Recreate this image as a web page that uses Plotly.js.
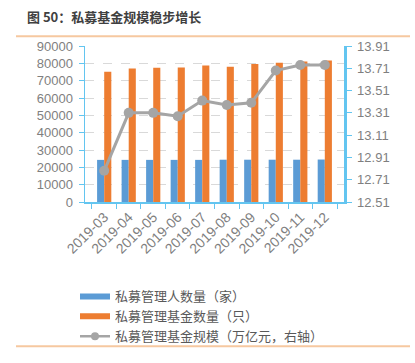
<!DOCTYPE html>
<html>
<head>
<meta charset="utf-8">
<script src="https://cdn.plot.ly/plotly-3.0.1.min.js"></script>
<style>html,body{margin:0;padding:0;background:#fff;}#chart{width:415px;height:363px;}</style>
</head>
<body>
<div id="chart"></div>
<script>
const categories = ['2019-03','2019-04','2019-05','2019-06','2019-07','2019-08','2019-09','2019-10','2019-11','2019-12'];
const managers = [24300, 24300, 24300, 24300, 24300, 24400, 24400, 24400, 24400, 24500];
const funds = [75200, 77000, 77400, 77600, 78700, 78100, 79600, 80300, 81100, 81600];
const scale = [12.79, 13.31, 13.31, 13.28, 13.42, 13.38, 13.40, 13.69, 13.74, 13.74];
const seriesNames = ['私募管理人数量（家）', '私募管理基金数量（只）', '私募管理基金规模（万亿元，右轴）'];
const titleText = '图 50：私募基金规模稳步增长';

const W = 415, H = 363, L = 85, R = 344, T = 46, B = 205;
const px = x => (x - L) / (R - L);
const py = y => (B - y) / (B - T);

const blue = '#5B9BD5', orange = '#ED7D31', gray = '#A5A5A5';
const axisColor = '#63C5F0';
const tickFont = {family: 'Liberation Sans, Arial, sans-serif', size: 13, color: '#7F7F7F'};
const cjk = 'Noto Sans CJK SC, sans-serif';

const traces = [
  {type: 'bar', x: categories, y: managers, name: seriesNames[0], marker: {color: blue}, showlegend: false, yaxis: 'y'},
  {type: 'bar', x: categories, y: funds, name: seriesNames[1], marker: {color: orange}, showlegend: false, yaxis: 'y'},
  {type: 'scatter', mode: 'lines+markers', x: categories, y: scale, name: seriesNames[2], yaxis: 'y2', showlegend: false,
   line: {color: gray, width: 3}, marker: {color: gray, size: 10}},
  {type: 'scatter', mode: 'lines', x: [null], y: [null], name: seriesNames[0], line: {color: blue, width: 6}, yaxis: 'y', hoverinfo: 'skip'},
  {type: 'scatter', mode: 'lines', x: [null], y: [null], name: seriesNames[1], line: {color: orange, width: 6}, yaxis: 'y', hoverinfo: 'skip'},
  {type: 'scatter', mode: 'lines+markers', x: [null], y: [null], name: seriesNames[2], yaxis: 'y2', hoverinfo: 'skip',
   line: {color: gray, width: 2.5}, marker: {color: gray, size: 8}}
];

const layout = {
  width: W, height: H,
  margin: {l: L, r: W - R, t: T, b: H - B, pad: 0},
  paper_bgcolor: '#fff', plot_bgcolor: '#fff',
  showlegend: true,
  barmode: 'group', bargap: 0.42, bargroupgap: 0,
  xaxis: {
    type: 'category', tickson: 'boundaries', ticks: 'outside', ticklen: 5, tickcolor: axisColor,
    showline: true, linecolor: axisColor, linewidth: 1.5, showgrid: false,
    tickangle: -45, tickfont: {family: tickFont.family, size: 14, color: tickFont.color}, automargin: false
  },
  yaxis: {
    range: [0, 90000], dtick: 10000, tick0: 0, ticks: 'outside', ticklen: 5, tickcolor: axisColor,
    showline: true, linecolor: axisColor, linewidth: 1.5, ticklabelstandoff: 3,
    showgrid: true, gridcolor: '#D9D9D9', griddash: 'dash', gridwidth: 1,
    zeroline: false, tickfont: tickFont, automargin: false, tickformat: 'd'
  },
  yaxis2: {
    overlaying: 'y', side: 'right', range: [12.51, 13.91], tick0: 12.51, dtick: 0.2, tickformat: '.2f',
    ticks: 'outside', ticklen: 5, tickcolor: axisColor, showline: true, linecolor: axisColor, linewidth: 2.5,
    ticklabelstandoff: 3,
    showgrid: false, zeroline: false, tickfont: tickFont, automargin: false
  },
  legend: {
    x: px(75), y: py(286), xanchor: 'left', yanchor: 'top', orientation: 'v',
    font: {family: cjk, size: 13, color: '#595959'}, tracegroupgap: 0, bgcolor: 'rgba(0,0,0,0)'
  },
  annotations: [
    {text: titleText, xref: 'paper', yref: 'paper', x: px(25), y: py(16), xanchor: 'left', yanchor: 'middle',
     showarrow: false, font: {family: cjk, size: 13, color: '#404040', weight: 'bold'}}
  ],
  shapes: [
    {type: 'line', xref: 'paper', yref: 'paper', x0: px(16), x1: px(410), y0: py(36), y1: py(36), line: {color: '#F6C8A0', width: 2}},
    {type: 'line', xref: 'paper', yref: 'paper', x0: px(16), x1: px(410), y0: py(352), y1: py(352), line: {color: '#F6C8A0', width: 2}}
  ]
};

Plotly.newPlot('chart', traces, layout, {displayModeBar: false, staticPlot: true});
</script>
</body>
</html>
